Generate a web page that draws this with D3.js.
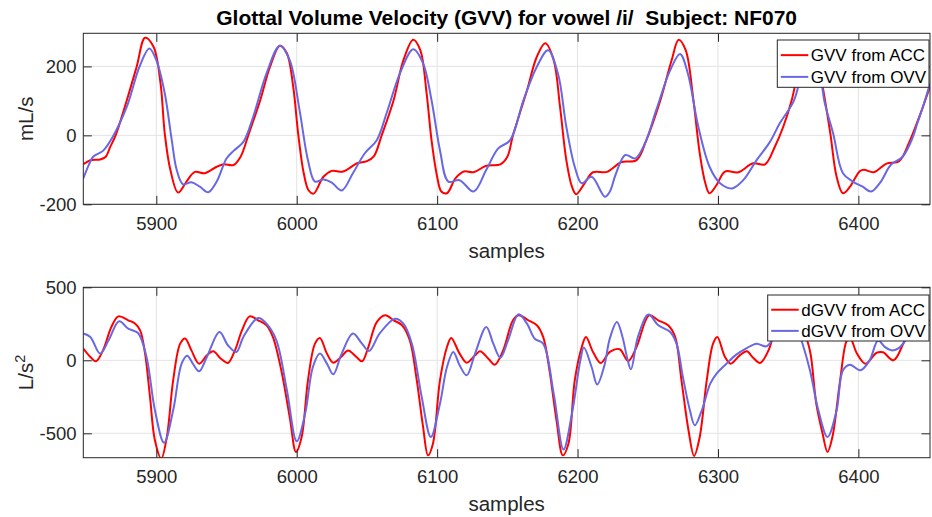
<!DOCTYPE html>
<html>
<head>
<meta charset="utf-8">
<script src="https://cdn.jsdelivr.net/npm/d3@7"></script>
<style>
body { margin: 0; background: #fff; }
svg { display: block; font-family: "Liberation Sans", Arial, Helvetica, sans-serif; }
</style>
</head>
<body>
<svg width="932" height="517"></svg>
<script>
// values, [sample, value]
// GVV in mL/s
var gvvAcc = [[5848,-84],[5853,-72],[5860,-70],[5864,-62],[5867,-35],[5871,0],[5879,102],[5886,199],[5892,283],[5898,257],[5903,151],[5906,6],[5910,-100],[5915.5,-166],[5921.5,-134],[5927.5,-106],[5934.5,-110],[5943,-91],[5948,-84],[5955,-86],[5960,-62],[5965.5,0],[5974,102],[5981,199],[5988,260],[5993,238],[5997.5,141],[6001,6],[6005,-110],[6008.5,-160],[6012,-169],[6019,-120],[6025,-103],[6033,-105],[6043,-81],[6050,-75],[6055,-60],[6060.5,0],[6069,102],[6076,218],[6083,277],[6088,247],[6092.5,122],[6096,-14],[6100,-120],[6103,-163],[6107,-168],[6113,-125],[6119,-105],[6126,-107],[6135,-88],[6145,-84],[6150,-62],[6154,0],[6164,131],[6171,228],[6177,267],[6183,218],[6187.5,83],[6192,-72],[6196,-149],[6199,-171],[6205,-139],[6211,-107],[6221,-106],[6231,-78],[6242,-72],[6249,-14],[6259,102],[6267,218],[6272,277],[6277,247],[6282.5,102],[6287,-52],[6291,-139],[6294,-168],[6299,-144],[6305,-105],[6314.5,-107],[6325,-81],[6333.5,-84],[6340.5,-33],[6346.5,25],[6352.5,102],[6359,215],[6365,268],[6370,240],[6375,131],[6380,6],[6384.5,-120],[6389,-168],[6394,-149],[6401,-104],[6404,-100],[6411,-107],[6420,-82],[6429,-75],[6436,-22],[6443,50],[6451,141]];
var gvvOvv = [[5848,-125],[5852,-85],[5855,-62],[5862,-45],[5869,-4],[5879,83],[5888,199],[5895,252],[5900,218],[5906,122],[5911,-14],[5914.5,-100],[5919,-142],[5925,-136],[5931,-149],[5937,-165],[5943,-134],[5950,-67],[5955,-45],[5962,-19],[5969,54],[5978.5,180],[5988,260],[5995,218],[6002,73],[6008,-72],[6013,-134],[6019,-128],[6025,-137],[6032,-160],[6040,-110],[6048.5,-52],[6057,-14],[6064,64],[6073.5,180],[6083,250],[6090,209],[6096,102],[6102,-43],[6108,-134],[6116,-130],[6126,-163],[6135,-100],[6143.5,-38],[6152,-14],[6161.5,102],[6171,199],[6179,247],[6186,180],[6192,25],[6198,-91],[6203,-139],[6210,-120],[6219.5,-178],[6223,-163],[6227,-115],[6234,-57],[6241,-67],[6248,-23],[6256,73],[6266,189],[6273,236],[6278.5,180],[6286,25],[6294,-91],[6301.5,-139],[6310,-154],[6318,-130],[6327.5,-72],[6337,-19],[6344,35],[6354,100],[6361,200],[6367,245],[6372,195],[6376,95],[6382,6],[6389,-110],[6396,-134],[6403,-149],[6409,-163],[6416,-134],[6423,-86],[6431.5,-62],[6438.5,-8],[6442,35],[6446,83],[6451,150]];

// dGVV in L/s^2
var dgvvAcc = [[5848,80],[5853,23],[5857,-7],[5862,68],[5868,228],[5873,301],[5880,274],[5885,251],[5888.5,205],[5892,46],[5895.5,-251],[5899,-548],[5903.5,-673],[5907.5,-525],[5912,-137],[5917,114],[5920.5,150],[5925,68],[5930.5,-23],[5936,34],[5940.5,62],[5946,11],[5951,-18],[5956,68],[5961,205],[5966.5,301],[5972.5,274],[5978.5,240],[5983,160],[5989,-68],[5995,-388],[5999.5,-628],[6003.5,-525],[6008,-137],[6013,114],[6016.5,153],[6021.5,46],[6026,-16],[6032,27],[6036.5,68],[6042.5,23],[6046.5,-7],[6051,91],[6057,262],[6063,308],[6069,274],[6075,240],[6080.5,137],[6085.5,-137],[6090,-457],[6093.5,-651],[6097,-571],[6102,-137],[6107,91],[6110,153],[6116,46],[6121,-16],[6127,34],[6130.5,62],[6136.5,11],[6141,-30],[6147,68],[6154,274],[6158,308],[6165,274],[6171,240],[6175.5,160],[6180,-68],[6185,-411],[6189.5,-651],[6193.5,-571],[6198,-137],[6203,91],[6206,160],[6211,57],[6216.5,-18],[6223,58],[6230,76],[6236,-5],[6242,91],[6251,308],[6257.5,274],[6264.5,240],[6269.5,160],[6274,-137],[6279,-479],[6283,-655],[6287,-525],[6292,-137],[6296.5,114],[6299.5,160],[6305,23],[6309,-23],[6315.5,34],[6320.5,62],[6325,18],[6330,-18],[6336,68],[6341,220],[6346,300],[6352,272],[6358,240],[6363,150],[6366,40],[6370,-297],[6374.5,-502],[6378,-628],[6381.5,-525],[6387,-137],[6391.5,130],[6394,155],[6399,46],[6405,-23],[6413,52],[6417.5,55],[6425,0],[6432,114],[6438,240],[6444,290],[6451,270]];
var dgvvOvv = [[5848,183],[5853,160],[5860,46],[5866,137],[5873.5,267],[5880,217],[5887,187],[5893,23],[5899,-342],[5905.5,-564],[5912,-342],[5918,-23],[5922,32],[5926,-23],[5930.5,-75],[5936,23],[5945,194],[5951,103],[5957,57],[5962,160],[5972.5,290],[5978.5,251],[5985.5,137],[5993,-205],[6000,-555],[6006,-365],[6011.5,-46],[6016.5,46],[6021.5,-23],[6026,-96],[6032,46],[6040,183],[6046.5,114],[6051.5,64],[6059,183],[6070,285],[6076,251],[6082,114],[6089,-251],[6095.5,-525],[6102,-297],[6107,-46],[6111.5,57],[6116,-34],[6121,-103],[6127,46],[6135,228],[6140,114],[6145,18],[6150.5,137],[6158,315],[6164,251],[6169.5,148],[6175.5,114],[6183,-228],[6190,-610],[6196,-365],[6202,0],[6204.5,87],[6210,-46],[6214,-166],[6219,-40],[6223,150],[6228,262],[6232,160],[6235,30],[6238,-62],[6243,160],[6250.5,313],[6257.5,240],[6266,194],[6270.5,114],[6275,-114],[6280,-342],[6283.5,-445],[6288.5,-342],[6294.5,-160],[6299,-91],[6306,-23],[6313,39],[6320.5,84],[6327.5,114],[6334.5,96],[6340,160],[6346,260],[6351,290],[6356,230],[6360,120],[6365.5,-68],[6371.5,-342],[6378,-525],[6384.5,-342],[6389,-68],[6394,-30],[6401.5,-68],[6408,0],[6414,135],[6419,90],[6424,68],[6429,85],[6433,130],[6440,230],[6446,260],[6451,240]];

// axes ranges and ticks
var xDomain = [5848, 6451];
var xTicks = [5900, 6000, 6100, 6200, 6300, 6400];
var gvvDomain = [-200, 296];
var gvvTicks = [-200, 0, 200];
var dgvvDomain = [-667, 500];
var dgvvTicks = [-500, 0, 500];
var legendTop = ["GVV from ACC", "GVV from OVV"];
var legendBottom = ["dGVV from ACC", "dGVV from OVV"];

var svg = d3.select("svg"),
    axColor = "#262626",
    gridColor = "#e3e3e3",
    colors = ["#ff0000", "#6868e4"],
    left = 83.3, right = 930;

var x = d3.scaleLinear().domain(xDomain).range([left, right]);

// title
svg.append("text")
    .attr("x", (left + right) / 2)
    .attr("y", 25)
    .attr("text-anchor", "middle")
    .attr("font-weight", "bold")
    .attr("font-size", 21)
    .attr("fill", "#000")
    .text("Glottal Volume Velocity (GVV) for vowel /i/\u00a0\u00a0Subject: NF070");

function panel(id, top, bottom, yDomain, yTicks, series, labels, lg, ylabel) {
    var y = d3.scaleLinear().domain(yDomain).range([bottom, top]);
    var g = svg.append("g");

    svg.append("clipPath").attr("id", id)
        .append("rect")
        .attr("x", left).attr("y", top)
        .attr("width", right - left).attr("height", bottom - top);

    //grille
    g.append("g").selectAll("line").data(xTicks).enter().append("line")
        .attr("x1", x).attr("x2", x).attr("y1", top).attr("y2", bottom)
        .attr("stroke", gridColor);
    g.append("g").selectAll("line").data(yTicks).enter().append("line")
        .attr("x1", left).attr("x2", right)
        .attr("y1", y).attr("y2", y)
        .attr("stroke", gridColor);

    //courbes
    var line = d3.line()
        .x(function(d) { return x(d[0]); })
        .y(function(d) { return y(d[1]); })
        .curve(d3.curveCatmullRom.alpha(0.5));

    g.append("g").attr("clip-path", "url(#" + id + ")")
        .selectAll("path").data(series).enter().append("path")
        .attr("d", line)
        .attr("fill", "none")
        .attr("stroke", function(d, i) { return colors[i]; })
        .attr("stroke-width", 2)
        .attr("stroke-linejoin", "round");

    //axes, ticks inward like matlab
    var fmt = function(d) { return String(d); };
    var axes = [
        g.append("g").attr("transform", "translate(0," + bottom + ")")
            .call(d3.axisBottom(x).tickValues(xTicks).tickFormat(fmt).tickSizeInner(-8.5).tickSizeOuter(0).tickPadding(12.5)),
        g.append("g").attr("transform", "translate(0," + top + ")")
            .call(d3.axisTop(x).tickValues(xTicks).tickFormat("").tickSizeInner(-8.5).tickSizeOuter(0)),
        g.append("g").attr("transform", "translate(" + left + ",0)")
            .call(d3.axisLeft(y).tickValues(yTicks).tickFormat(fmt).tickSizeInner(-8.5).tickSizeOuter(0).tickPadding(6.8)),
        g.append("g").attr("transform", "translate(" + right + ",0)")
            .call(d3.axisRight(y).tickValues(yTicks).tickFormat("").tickSizeInner(-8.5).tickSizeOuter(0))
    ];
    axes.forEach(function(a) {
        a.attr("font-family", null).attr("font-size", 18.5);
        a.select(".domain").remove();
        a.selectAll(".tick line").attr("stroke", axColor);
        a.selectAll(".tick text").attr("fill", axColor);
    });

    g.append("rect")
        .attr("x", left).attr("y", top)
        .attr("width", right - left).attr("height", bottom - top)
        .attr("fill", "none").attr("stroke", axColor).attr("stroke-width", 1);

    //labels
    g.append("text")
        .attr("x", (left + right) / 2)
        .attr("y", bottom + 53.7)
        .attr("text-anchor", "middle")
        .attr("font-size", 20.5)
        .attr("fill", axColor)
        .text("samples");

    var yl = g.append("text")
        .attr("transform", "translate(33," + ((top + bottom) / 2) + ") rotate(-90)")
        .attr("text-anchor", "middle")
        .attr("font-size", 20.5)
        .attr("fill", axColor);
    yl.append("tspan").text(ylabel[0]);
    if (ylabel[1]) {
        yl.append("tspan").attr("dy", -8).attr("font-size", 14.5).text(ylabel[1]);
    }

    //legende
    var leg = g.append("g");
    leg.append("rect")
        .attr("x", lg.x).attr("y", lg.y)
        .attr("width", right - 1 - lg.x).attr("height", lg.h)
        .attr("fill", "#fff").attr("stroke", axColor).attr("stroke-width", 1);
    var item = leg.selectAll("g.item").data(labels).enter().append("g")
        .attr("class", "item")
        .attr("transform", function(d, i) { return "translate(0," + (lg.y + lg.h * (0.32 + 0.46 * i)) + ")"; });
    item.append("line")
        .attr("x1", lg.x + 3.5).attr("x2", lg.x + 31)
        .attr("stroke", function(d, i) { return colors[i]; })
        .attr("stroke-width", 2);
    item.append("text")
        .attr("x", lg.x + 33.5)
        .attr("dy", "0.35em")
        .attr("font-size", 17)
        .attr("fill", "#000")
        .text(function(d) { return d; });
}

panel("clipTop", 33.3, 204.3, gvvDomain, gvvTicks, [gvvAcc, gvvOvv], legendTop,
    {x: 777.3, y: 40, h: 47.3}, ["mL/s"]);
panel("clipBottom", 287.3, 457.7, dgvvDomain, dgvvTicks, [dgvvAcc, dgvvOvv], legendBottom,
    {x: 767.7, y: 295, h: 46}, ["L/s", "2"]);
</script>
</body>
</html>
